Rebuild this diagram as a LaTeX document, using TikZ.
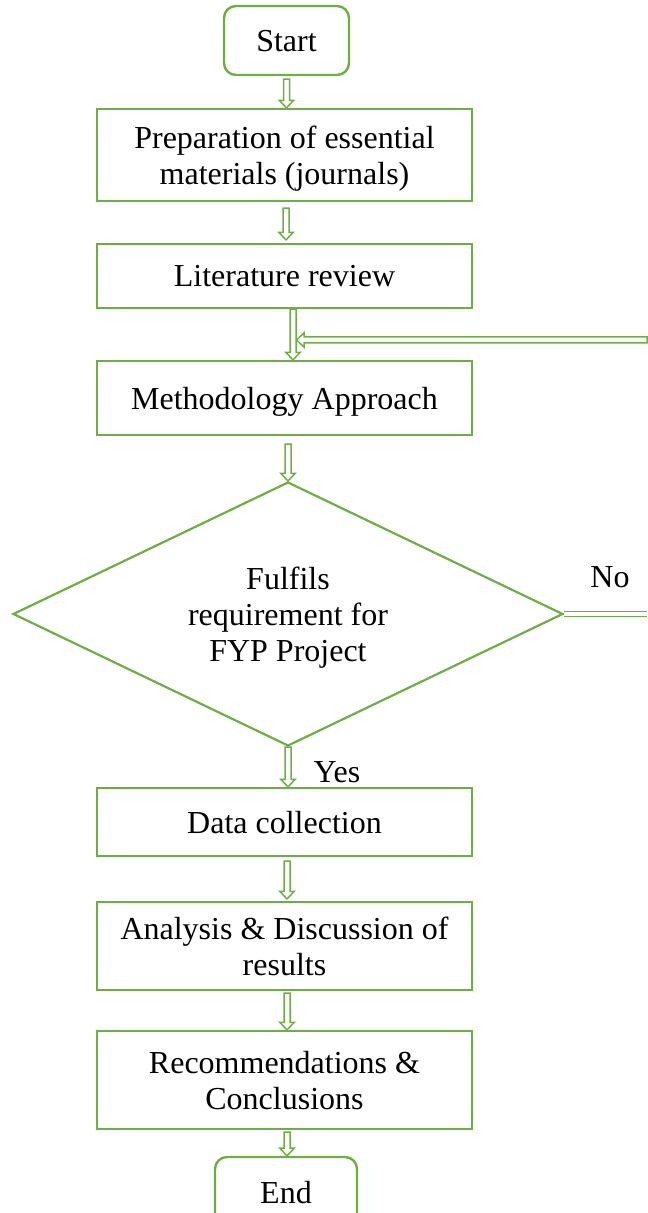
\documentclass[tikz,border=0pt]{standalone}
\usepackage{fontspec}
\setmainfont{Liberation Serif}
\usetikzlibrary{shapes.geometric,calc}
\definecolor{fgreen}{HTML}{70AD47}
\begin{document}
\begin{tikzpicture}[x=0.5pt,y=-0.5pt,
  every node/.style={font=\fontsize{16}{18}\selectfont, text=black},
  box/.style={draw=fgreen, line width=1.1pt, fill=white, minimum width=187.5pt, align=center, inner sep=0pt, text depth=0pt},
  term/.style={draw=fgreen, line width=1.2pt, fill=white, rounded corners=6pt, align=center, inner sep=0pt, text height=1.15em, text depth=0pt},
  dec/.style={diamond, draw=fgreen, line width=1.1pt, fill=white, shape aspect=2.08, minimum width=275pt, minimum height=132pt, inner sep=0pt, align=center, text depth=0pt},
  dline/.style={draw=fgreen, line width=0.75pt, double=white, double distance=1.6pt},
  barrow/.style={draw=fgreen, line width=0.75pt, fill=white, line join=miter,
    to path={let \p1=(\tikztostart), \p2=(\tikztotarget),
      \n1={atan2(\y2-\y1,\x2-\x1)}, \n2={\n1+90}, \n3={\n1-90}, \n4={\n1+180} in
      ($(\p1)+(\n2:1.5pt)$) -- ($(\p2)+(\n4:3.8pt)+(\n2:1.5pt)$) -- ($(\p2)+(\n4:3.8pt)+(\n2:3.6pt)$)
      -- (\p2) -- ($(\p2)+(\n4:3.8pt)+(\n3:3.6pt)$) -- ($(\p2)+(\n4:3.8pt)+(\n3:1.5pt)$)
      -- ($(\p1)+(\n3:1.5pt)$) -- cycle}}
  ]
\useasboundingbox (0,0) rectangle (647,1213);

\node[term, minimum width=62.5pt, minimum height=34.5pt] (start) at (286.5,40.5) {Start};
\node[box, minimum height=46pt] (b1) at (284.5,155) {Preparation of essential\\materials (journals)};
\node[box, minimum height=32pt] (b2) at (284.5,276) {Literature review};
\node[box, minimum height=37pt] (b3) at (284.5,398) {Methodology Approach};
\node[dec] (d) at (288,614) {Fulfils\\requirement for\\FYP Project};
\node[box, minimum height=34pt] (b4) at (284.5,822) {Data collection};
\node[box, minimum height=44pt] (b5) at (284.5,946) {Analysis \& Discussion of\\results};
\node[box, minimum height=49pt] (b6) at (284.5,1080) {Recommendations \&\\Conclusions};
\node[term, minimum width=71pt, minimum height=34.5pt] (end) at (286,1191.5) {End};

\node (yes) at (337,772) {Yes};
\node (no) at (610,577) {No};

\coordinate (noend) at (647,614);
\coordinate (backin) at (647,340);
\coordinate (join) at (296.5,340);

\draw[barrow] ([yshift=-1.5pt]start.south) to ([xshift=1pt]b1.north);
\draw[barrow] ([xshift=0.75pt,yshift=-3pt]b1.south) to ([xshift=0.75pt,yshift=1.5pt]b2.north);
\draw[barrow] ([xshift=4.25pt]b2.south) to ([xshift=4.25pt]b3.north);
\draw[barrow] ([xshift=1.75pt,yshift=-4pt]b3.south) to (d.north);
\draw[barrow] (d.south) to ([xshift=1.75pt]b4.north);
\draw[barrow] ([xshift=1.25pt,yshift=-2pt]b4.south) to ([xshift=1.25pt,yshift=1pt]b5.north);
\draw[barrow] ([xshift=1.25pt,yshift=-1pt]b5.south) to ([xshift=1.25pt]b6.north);
\draw[barrow] ([xshift=1.25pt,yshift=-1pt]b6.south) to ([xshift=0.5pt]end.north);

\draw[dline] (d.east) -- (noend);
\draw[barrow] (backin) to (join);
\end{tikzpicture}
\end{document}
